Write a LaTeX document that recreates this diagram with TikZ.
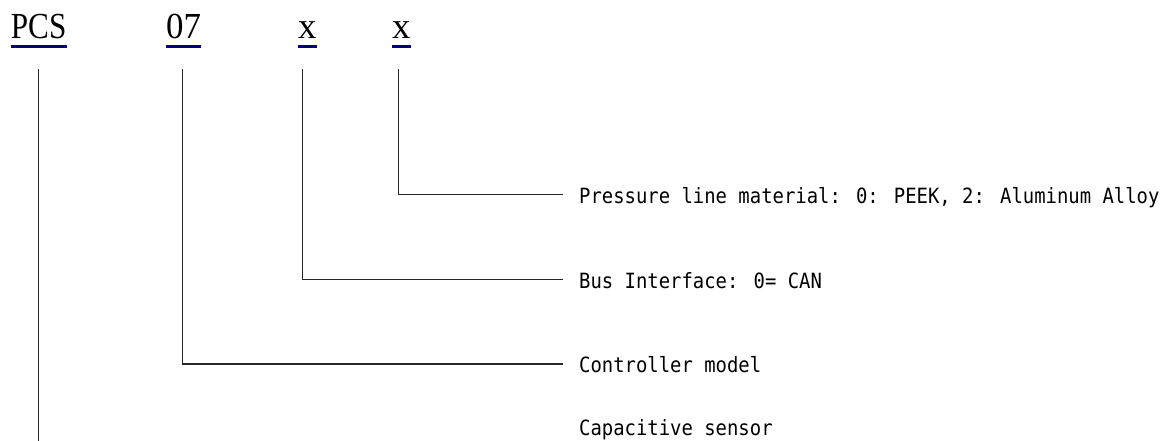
\documentclass[tikz,border=0pt]{standalone}
\usepackage{fontspec}
\setmainfont{Liberation Serif}
\newfontfamily\labelfont[FakeStretch=0.9]{DejaVu Sans Mono}
\usepackage{graphicx}
\definecolor{ulblue}{RGB}{0,0,128}
\definecolor{linegray}{RGB}{40,40,40}
\begin{document}
\begin{tikzpicture}[x=1pt,y=-1pt,
  code/.style={inner sep=0pt,anchor=base west,font=\fontsize{36.7}{40}\selectfont},
  desc/.style={inner sep=0pt,anchor=base west,font=\labelfont\fontsize{21}{24}\selectfont},
  uline/.style={draw=ulblue,line width=2.7pt},
  conn/.style={draw=linegray,line width=1.1pt}]
\useasboundingbox (0,0) rectangle (1175,441);
% code letters
\node[code] (pcs) at (10.7,39) {\scalebox{0.85}[1]{PCS}};
\node[code] (model) at (166,39) {\scalebox{0.95}[1]{07}};
\node[code] (xa) at (298,39) {x};
\node[code] (xb) at (392,39) {x};
\foreach \n in {pcs,model,xa,xb}
  \draw[uline] ([yshift=-7.3pt]\n.base west) -- ([yshift=-7.3pt]\n.base east);
% descriptions
\node[desc] (press) at (579,203) {Pressure line material: 0: PEEK, 2: Aluminum Alloy};
\node[desc] (bus) at (579,288) {Bus Interface: 0= CAN};
\node[desc] (ctrl) at (579,372) {Controller model};
\node[desc] (cap) at (579,435) {Capacitive sensor};
% connector coordinates
\coordinate (pcsTop) at (38.5,69);
\coordinate (pcsEnd) at (38.5,441);
\coordinate (modelTop) at (182.7,69);
\coordinate (modelEnd) at (563,364);
\coordinate (xaTop) at (302.7,69);
\coordinate (xaEnd) at (563,279.5);
\coordinate (xbTop) at (398.5,69);
\coordinate (xbEnd) at (563,194.5);
% connectors
\draw[conn] (pcsTop) -- (pcsEnd);
\draw[conn] (modelTop) |- (modelEnd);
\draw[conn] (xaTop) |- (xaEnd);
\draw[conn] (xbTop) |- (xbEnd);
\end{tikzpicture}
\end{document}
